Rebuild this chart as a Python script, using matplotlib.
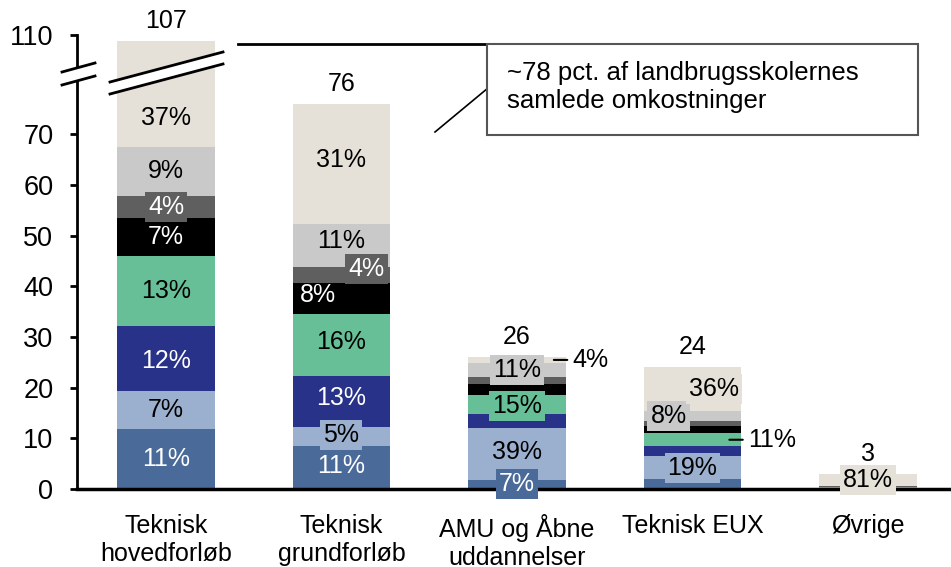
import numpy as np
import matplotlib.pyplot as plt
from matplotlib.patches import Rectangle, Polygon
from matplotlib.lines import Line2D

plt.rcParams['font.family'] = ['Liberation Sans', 'DejaVu Sans']

# data (shares in pct of each bar, bottom to top)
categories = ['Teknisk\nhovedforløb', 'Teknisk\ngrundforløb', 'AMU og Åbne\nuddannelser',
              'Teknisk EUX', 'Øvrige']
totals = [107, 76, 26, 24, 3]
steel = [11, 11, 7, 8, 4]
lightblue = [7, 5, 39, 19, 6]
navy = [12, 13, 10, 8, 2]
green = [13, 16, 15, 11, 3]
black = [7, 8, 8, 6, 1]
darkgray = [4, 4, 5, 4, 1]
lightgray = [9, 11, 11, 8, 2]
beige = [37, 31, 4, 36, 81]
yticks = [0, 10, 20, 30, 40, 50, 60, 70, 110]
callout = '~78 pct. af landbrugsskolernes\nsamlede omkostninger'

colors = ['#4a6a9a', '#9bafcf', '#283289', '#66bf97', '#000000', '#5f5f5f', '#c9c9c9', '#e5e1d8']
txtcol = ['white', 'black', 'white', 'black', 'white', 'white', 'black', 'black']
FS = 18

# which labels to show: (bar, segment) -> (dx px, dy px, boxed, leader)
labels = {
    (0, 0): (0, 0, False, False), (0, 1): (0, 0, False, False), (0, 2): (0, 2, False, False),
    (0, 3): (0, 0, False, False), (0, 4): (0, 0, False, False), (0, 5): (0, 0, True, False),
    (0, 6): (0, -1, False, False), (0, 7): (0, 24, False, False),
    (1, 0): (0, -2, False, False), (1, 1): (0, -1, True, False), (1, 2): (0, -3, False, False),
    (1, 3): (0, -3, False, False), (1, 4): (-24, -3, False, False), (1, 5): (25, -6, True, False),
    (1, 6): (0, -5, False, False), (1, 7): (0, -4, False, False),
    (2, 0): (0, 0, True, False), (2, 1): (0, -2, False, False), (2, 3): (0, 2, True, False),
    (2, 6): (0, 0, True, False), (2, 7): (0, 0, False, True),
    (3, 1): (0, 0, True, False), (3, 3): (0, 0, False, True), (3, 6): (-24, 0, True, False),
    (3, 7): (22, 0, True, False),
    (4, 7): (0, 0, True, False),
}

shares = np.array([steel, lightblue, navy, green, black, darkgray, lightgray, beige], float)
heights = shares / shares.sum(axis=0) * np.array(totals)
bottoms = np.vstack([np.zeros(len(totals)), np.cumsum(heights, axis=0)[:-1]])

# broken axis: linear up to BRK, compressed above
BRK, K = 76, 0.4


def fwd(v):
    v = np.asarray(v, float)
    return np.where(v <= BRK, v, BRK + (v - BRK) * K)


def inv(u):
    u = np.asarray(u, float)
    return np.where(u <= BRK, u, BRK + (u - BRK) / K)


W, H = 951, 567


def px(x, y):
    return (x / W, 1 - y / H)


fig = plt.figure(figsize=(W / 100, H / 100), dpi=100)
ax = fig.add_axes([77 / W, 78 / H, 874 / W, 454 / H])
ax.set_yscale('function', functions=(fwd, inv))

x = np.arange(len(categories))
for s in range(len(colors)):
    ax.bar(x, heights[s], bottom=bottoms[s], width=0.555, color=colors[s], zorder=2)

for (b, s), (dx, dy, boxed, leader) in labels.items():
    lo, hi = bottoms[s, b], bottoms[s, b] + heights[s, b]
    ymid = float(inv((fwd(lo) + fwd(hi)) / 2))
    txt = f'{shares[s, b]:.0f}%'
    if leader:
        ax.annotate(txt, xy=(b + 0.21, ymid), xytext=(19, 0), textcoords='offset pixels',
                    ha='left', va='center', fontsize=FS, color='black', zorder=6,
                    arrowprops=dict(arrowstyle='-', color='black', lw=1.5, shrinkA=2, shrinkB=0))
        continue
    bbox = dict(boxstyle='square,pad=0.12', fc=colors[s], ec='none') if boxed else None
    ax.annotate(txt, xy=(b, ymid), xytext=(dx, -dy), textcoords='offset pixels',
                ha='center', va='center', fontsize=FS, color=txtcol[s], bbox=bbox, zorder=6)

for b, t in enumerate(totals):
    ax.annotate(str(t), xy=(b, t), xytext=(0, 20), textcoords='offset pixels',
                ha='center', va='center', fontsize=FS)

ax.set_xlim(-0.507, 4.473)
ax.set_ylim(0, 110)
ax.set_yticks(yticks)
ax.set_yticklabels([str(v) for v in yticks])
ax.minorticks_off()
ax.set_xticks(x)
ax.set_xticklabels(categories, fontsize=FS, linespacing=1.2)
ax.tick_params(axis='x', length=0, pad=18)
ax.tick_params(axis='y', length=5, width=2, pad=12, labelsize=19.5)
for sp in ['top', 'right']:
    ax.spines[sp].set_visible(False)
ax.spines['left'].set_linewidth(2)
ax.spines['bottom'].set_linewidth(2.5)

# break marks on the axis and on the first bar
for pts in ([(62, 72), (95, 63), (95, 76), (62, 85)], [(110, 82), (223, 52), (223, 64), (110, 94)]):
    fig.add_artist(Polygon([px(*p) for p in pts], closed=True, fc='white', ec='none',
                           transform=fig.transFigure, zorder=5))
    for a, c in ((pts[0], pts[1]), (pts[3], pts[2])):
        fig.add_artist(Line2D([px(*a)[0], px(*c)[0]], [px(*a)[1], px(*c)[1]], color='black',
                              lw=2, transform=fig.transFigure, zorder=6))

# callout
fig.add_artist(Line2D([px(238, 44)[0], px(487, 44)[0]], [px(238, 44)[1]] * 2, color='black', lw=2,
                      transform=fig.transFigure, zorder=6))
fig.add_artist(Line2D([px(435, 132)[0], px(488, 88)[0]], [px(435, 132)[1], px(488, 88)[1]],
                      color='black', lw=1.2, transform=fig.transFigure, zorder=6))
bx0, by1 = px(487, 135)
fig.add_artist(Rectangle((bx0, by1), 431 / W, 91 / H, fc='white', ec='#555555', lw=1.5,
                         transform=fig.transFigure, zorder=7))
fig.text(*px(507, 87), callout, fontsize=18.5, ha='left', va='center', linespacing=1.2, zorder=8)

fig.savefig('out.png', dpi=100)
